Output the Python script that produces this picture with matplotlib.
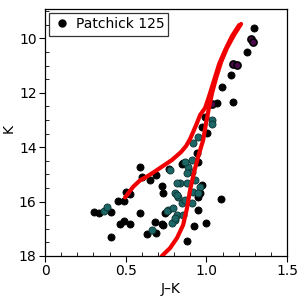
import matplotlib
matplotlib.use("Agg")
import matplotlib.pyplot as plt
from matplotlib.ticker import MultipleLocator
from matplotlib.lines import Line2D

# --- data (J-K colour, K magnitude) ---
black_jk = [1.296, 1.254, 1.155, 1.099, 1.167, 1.066, 0.992, 0.971, 1.006, 0.940,
            0.857, 0.950, 0.589, 0.600, 0.686, 0.651, 0.723, 0.733, 0.499, 0.527,
            0.453, 0.492, 0.306, 0.335, 0.407, 0.589, 0.492, 0.465, 0.527, 0.682,
            0.723, 0.634, 0.690, 0.406, 0.744, 0.770, 0.847, 1.089, 0.998, 0.926,
            0.882, 0.950, 0.950, 0.961, 0.971, 0.733]
black_k = [9.63, 10.51, 11.36, 11.80, 12.34, 12.39, 12.89, 13.25, 13.48, 14.22,
           14.59, 14.53, 14.72, 15.11, 15.02, 15.22, 15.43, 15.67, 15.64, 15.73,
           15.98, 15.98, 16.39, 16.43, 16.40, 16.41, 16.71, 16.82, 16.82, 16.74,
           16.84, 17.19, 17.17, 17.31, 16.43, 14.80, 14.62, 15.92, 16.78, 16.90,
           17.44, 15.82, 16.33, 15.69, 15.39, 16.86]

purple_jk = [1.277, 1.288, 1.167, 1.192, 1.035, 0.513]
purple_k = [10.03, 10.14, 10.94, 10.99, 12.41, 15.69]

teal_jk = [1.033, 1.033, 0.950, 0.919, 0.909, 0.366, 0.383, 0.663,
           0.888, 0.909, 0.878, 0.837, 0.878, 0.961, 0.919, 0.806, 0.826, 0.950,
           0.847, 0.868, 0.909, 0.764, 0.816, 0.857, 0.806, 0.786, 0.775, 0.820,
           0.816, 0.795, 0.754, 0.806, 0.868, 0.930]
teal_k = [13.00, 13.15, 13.62, 13.86, 14.47, 16.35, 16.20, 17.04,
          14.72, 14.90, 14.96, 15.31, 15.33, 15.45, 15.64, 15.70, 15.82, 15.70,
          16.06, 15.94, 16.06, 16.31, 16.49, 16.49, 16.68, 16.80, 14.84, 15.33,
          15.76, 16.25, 16.35, 16.61, 14.53, 15.21]

# isochrone branches
iso1_jk = [1.215, 1.172, 1.128, 1.091, 1.060, 1.035, 1.017, 0.998, 0.980, 0.952,
           0.924, 0.899, 0.880, 0.856, 0.818, 0.775, 0.725, 0.70]
iso1_k = [9.47, 9.87, 10.35, 10.87, 11.46, 12.01, 12.52, 13.11, 13.74, 14.29,
          14.91, 15.57, 16.24, 16.86, 17.34, 17.71, 18.0, 18.2]
iso2_jk = [1.203, 1.159, 1.116, 1.079, 1.048, 1.017, 0.992, 0.961, 0.939, 0.918,
           0.899, 0.874, 0.843, 0.787, 0.732, 0.682, 0.632, 0.589, 0.546, 0.496]
iso2_k = [9.51, 9.91, 10.43, 10.94, 11.53, 12.12, 12.56, 12.82, 13.15, 13.44,
          13.70, 13.96, 14.18, 14.47, 14.69, 14.89, 15.08, 15.22, 15.46, 15.85]

legend_label = "Patchick 125"

fig = plt.figure(figsize=(3, 3), dpi=100)
ax = fig.add_axes([0.15, 0.147, 0.807, 0.823])

ms = 26
ax.scatter(black_jk, black_k, s=ms, c="black", edgecolors="black", linewidths=0.6, zorder=2)
ax.scatter(purple_jk, purple_k, s=ms, c="#4a0a4a", edgecolors="black", linewidths=1.2, zorder=2)
ax.scatter(teal_jk, teal_k, s=ms, c="#1d6666", edgecolors="#0c3030", linewidths=0.6, zorder=3)

ax.plot(iso1_jk, iso1_k, color="#f00000", lw=3.0, solid_capstyle="round",
        solid_joinstyle="round", zorder=4)
ax.plot(iso2_jk, iso2_k, color="#f00000", lw=3.0, solid_capstyle="round",
        solid_joinstyle="round", zorder=4)

ax.set_xlim(0, 1.5)
ax.set_ylim(18, 8.92)
ax.xaxis.set_major_locator(MultipleLocator(0.5))
ax.xaxis.set_minor_locator(MultipleLocator(0.1))
ax.yaxis.set_major_locator(MultipleLocator(2))
ax.yaxis.set_minor_locator(MultipleLocator(0.5))
ax.set_xticks([0, 0.5, 1.0, 1.5])
ax.set_xticklabels(["0", "0.5", "1.0", "1.5"])
ax.tick_params(which="major", direction="out", length=4, width=0.8, labelsize=10,
               top=False, right=False, pad=2)
ax.tick_params(which="minor", direction="in", length=3, width=0.6, top=False, right=False)
for s in ax.spines.values():
    s.set_linewidth(0.9)

ax.set_xlabel("J\u2013K", fontsize=10)
ax.set_ylabel("K", fontsize=10)
ax.xaxis.set_label_coords(0.52, -0.105)
ax.yaxis.set_label_coords(-0.12, 0.515)

h = Line2D([], [], marker="o", color="black", linestyle="none", markersize=5)
leg = ax.legend([h], [legend_label], loc="upper left", fontsize=10, frameon=True,
                fancybox=False, edgecolor="black", borderpad=0.3, handletextpad=0.4,
                borderaxespad=0.3, handlelength=1.2)
leg.get_frame().set_linewidth(0.9)

fig.savefig("out.png", dpi=100)
